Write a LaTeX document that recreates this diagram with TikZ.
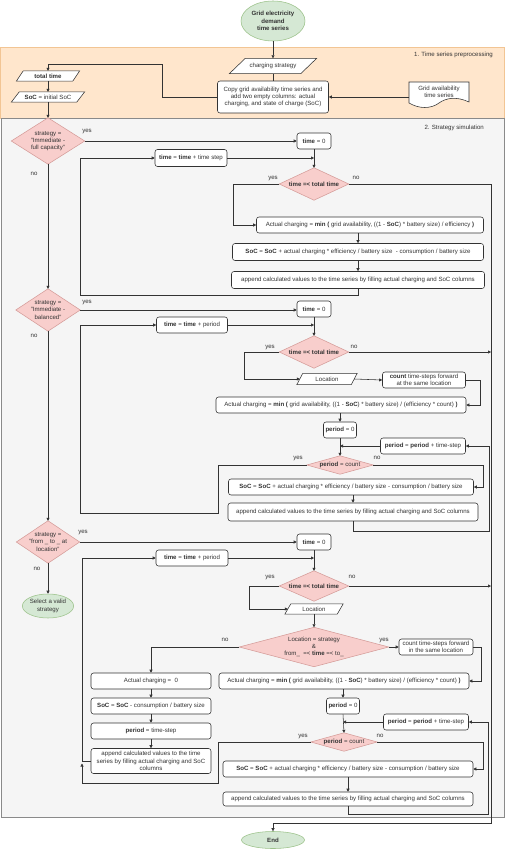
\documentclass[tikz,border=0pt]{standalone}
\usepackage{fontspec}
\setmainfont{Liberation Sans}
\usetikzlibrary{shapes.geometric,arrows.meta,calc}
\pgfdeclarelayer{bg}
\pgfdeclarelayer{shp}
\pgfsetlayers{bg,shp,main}
\definecolor{orfill}{HTML}{FFE6CC}
\definecolor{orline}{HTML}{F2C594}
\definecolor{grfill}{HTML}{F5F5F5}
\definecolor{grline}{HTML}{8A8A8A}
\definecolor{pkfill}{HTML}{F8CECC}
\definecolor{pkline}{HTML}{D59C99}
\definecolor{gnfill}{HTML}{D5E8D4}
\definecolor{gnline}{HTML}{9CC28A}
\definecolor{ink}{HTML}{333333}
\newcommand\myfs{\fontsize{6.1}{7.2}\selectfont}
\begin{document}
\begin{tikzpicture}[x=1pt,y=-1pt,
  every node/.style={font=\myfs, text=ink},
  box/.style={draw=ink, fill=white, rounded corners=2.5pt, line width=0.55pt, align=center, inner sep=0pt},
  tx/.style={align=center, inner sep=0pt},
  dshape/.style={draw=pkline, fill=pkfill, line width=0.55pt},
  pshape/.style={draw=ink, fill=white, line width=0.55pt},
  ell/.style={ellipse, draw=gnline, fill=gnfill, align=center, inner sep=0pt, line width=0.55pt},
  ln/.style={draw=ink, line width=0.55pt},
  arr/.style={ln, -{Triangle[length=3pt,width=3pt]}},
  lab/.style={inner sep=0pt}
]
\useasboundingbox (0,0) rectangle (505,850);

% regions
\begin{pgfonlayer}{bg}
\fill[white] (0,0) rectangle (505,850);
\draw[fill=orfill, draw=orline, line width=0.5pt] (0.5,47) rectangle (504.5,118);
\draw[fill=grfill, draw=grline, line width=0.5pt] (1,118) rectangle (504,817);
\end{pgfonlayer}
\node[lab, anchor=east] (r1) at (493,55) {1. Time series preprocessing};
\node[lab, anchor=east] (r2) at (484,128) {2. Strategy simulation};

% ---------- preprocessing
\node[ell, minimum width=64, minimum height=40, font=\myfs\bfseries] (start) at (273,21) {Grid electricity\\demand\\time series};
\node[tx, minimum width=87, minimum height=15] (cs) at (273,66) {charging strategy};
\node[box, minimum width=111, minimum height=32] (copy) at (273,97) {Copy grid availability time series and\\add two empty columns: actual\\charging, and state of charge (SoC)};
\node[tx, minimum width=60] (gav) at (439,92) {Grid availability\\time series};
\node[tx, minimum width=63, minimum height=10, font=\myfs\bfseries] (tt) at (48,76) {total time};
\node[tx, minimum width=73, minimum height=10] (si) at (48,97) {\textbf{SoC} = initial SoC};

% ---------- section 1
\node[tx, minimum width=73, minimum height=46] (d1) at (48,141) {strategy =\\"Immediate -\\full capacity"};
\node[box, minimum width=34, minimum height=16] (t0a) at (314,141) {\textbf{time} = 0};
\node[box, minimum width=72, minimum height=17] (tinc1) at (191,158) {\textbf{time} = \textbf{time} + time step};
\node[tx, minimum width=69, minimum height=32, font=\myfs\bfseries] (dt1) at (314,184) {time =< total time};
\node[box, minimum width=227, minimum height=16] (ac1) at (370,225) {Actual charging = \textbf{min (} grid availability, ((1 - \textbf{SoC}) * battery size) / efficiency \textbf{)}};
\node[box, minimum width=251, minimum height=17] (soc1) at (358,252) {\textbf{SoC} = \textbf{SoC} + actual charging * efficiency / battery size\ \ - consumption / battery size};
\node[box, minimum width=253, minimum height=17] (app1) at (358,280) {append calculated values to the time series by filling actual charging and SoC columns};

% ---------- section 2
\node[tx, minimum width=64, minimum height=42] (d2) at (48,310) {strategy =\\"Immediate -\\balanced"};
\node[box, minimum width=34, minimum height=16] (t0b) at (314,309) {\textbf{time} = 0};
\node[box, minimum width=71, minimum height=16] (tinc2) at (192,325) {\textbf{time} = \textbf{time} + period};
\node[tx, minimum width=69, minimum height=32, font=\myfs\bfseries] (dt2) at (314,352) {time =< total time};
\node[tx, minimum width=60, minimum height=11] (loc1) at (327,379) {Location};
\node[box, minimum width=83, minimum height=16] (cnt1) at (424,380) {\textbf{count} time-steps forward\\at the same location};
\node[box, minimum width=250, minimum height=16] (ac2) at (341,405) {Actual charging = \textbf{min (} grid availability, ((1 - \textbf{SoC}) * battery size) / (efficiency * count) \textbf{)}};
\node[box, minimum width=33, minimum height=16] (p0a) at (340,430) {\textbf{period} = 0};
\node[box, minimum width=85, minimum height=16] (pinc2) at (423,446) {\textbf{period} = \textbf{period} + time-step};
\node[tx, minimum width=66, minimum height=18] (dp2) at (340,465) {\textbf{period} = count};
\node[box, minimum width=245, minimum height=16] (soc2) at (351,487) {\textbf{SoC} = \textbf{SoC} + actual charging * efficiency / battery size - consumption / battery size};
\node[box, minimum width=250, minimum height=18] (app2) at (353,512) {append calculated values to the time series by filling actual charging and SoC columns};

% ---------- section 3
\node[tx, minimum width=63, minimum height=42] (d3) at (48,542) {strategy =\\"from \_ to \_ at\\location"};
\node[box, minimum width=34, minimum height=16] (t0c) at (314,542) {\textbf{time} = 0};
\node[box, minimum width=72, minimum height=16] (tinc3) at (192,558) {\textbf{time} = \textbf{time} + period};
\node[tx, minimum width=69, minimum height=30, font=\myfs\bfseries] (dt3) at (314,586) {time =< total time};
\node[ell, minimum width=49, minimum height=24] (sel) at (48,606) {Select a valid\\strategy};
\node[tx, minimum width=58, minimum height=10] (loc2) at (314,609) {Location};
\node[tx, minimum width=149, minimum height=39] (dloc) at (314,647) {Location = strategy\\\&\\from\_\ \ =< \textbf{time} =< to\_};
\node[box, minimum width=74, minimum height=16] (cnt2) at (436,647) {count time-steps forward\\in the same location};
\node[box, minimum width=120, minimum height=16] (ac0) at (151,681) {Actual charging =\ \ 0};
\node[box, minimum width=250, minimum height=16] (ac3) at (344,681) {Actual charging = \textbf{min (} grid availability, ((1 - \textbf{SoC}) * battery size) / (efficiency * count) \textbf{)}};
\node[box, minimum width=120, minimum height=16] (soc0) at (151,706) {\textbf{SoC} = \textbf{SoC} - consumption / battery size};
\node[box, minimum width=33, minimum height=16] (p0b) at (343,706) {\textbf{period} = 0};
\node[box, minimum width=85, minimum height=16] (pinc3) at (426,722) {\textbf{period} = \textbf{period} + time-step};
\node[box, minimum width=120, minimum height=16] (pstep) at (151,731) {\textbf{period} = time-step};
\node[tx, minimum width=66, minimum height=18] (dp3) at (344,742) {\textbf{period} = count};
\node[box, minimum width=120, minimum height=25] (app0) at (151,761) {append calculated values to the time\\series by filling actual charging and SoC\\columns};
\node[box, minimum width=250, minimum height=16] (soc3) at (348,769) {\textbf{SoC} = \textbf{SoC} + actual charging * efficiency / battery size - consumption / battery size};
\node[box, minimum width=250, minimum height=14] (app3) at (348,799) {append calculated values to the time series by filling actual charging and SoC columns};
\node[ell, minimum width=63, minimum height=17, font=\myfs\bfseries] (endn) at (273,840) {End};

% ---------- shapes behind text
\begin{pgfonlayer}{shp}
\foreach \n in {d1,d2,d3,dt1,dt2,dt3,dloc,dp2,dp3}
  \draw[dshape] (\n.north) -- (\n.east) -- (\n.south) -- (\n.west) -- cycle;
\foreach \n/\s in {cs/16,tt/7,si/8,loc1/6,loc2/6}
  \draw[pshape] ([xshift=\s]\n.north west) -- (\n.north east) -- ([xshift=-\s]\n.south east) -- (\n.south west) -- cycle;
\draw[pshape] (409,82) -- (469,82) -- (469,102) .. controls (456,96) and (446,98) .. (439,103) .. controls (431,109) and (419,109) .. (409,103) -- cycle;
\end{pgfonlayer}

% ---------- coordinates
\coordinate (c1) at (162,64);
\coordinate (e1) at (491,823);
\coordinate (l1a) at (233,225);
\coordinate (l1b) at (80,295);
\coordinate (n2) at (491,352);
\coordinate (l2a) at (244,379);
\coordinate (r2a) at (480,405);
\coordinate (l2b) at (218,513);
\coordinate (l2c) at (80,513);
\coordinate (r2b) at (483,487);
\coordinate (r2c) at (489,531);
\coordinate (n3) at (491,586);
\coordinate (l3a) at (249,609);
\coordinate (r3a) at (481,681);
\coordinate (r3b) at (483,769);
\coordinate (r3c) at (488,814);
\coordinate (l3b) at (218,783);
\coordinate (l3c) at (82,783);
\coordinate (l3d) at (82,763.5);
\coordinate (l3e) at (82,761);

% ---------- connectors: preprocessing
\draw[arr] (start.south) -- (cs.north);
\draw[ln] (cs.south) -- (copy.north);
\draw[arr] (gav.west |- copy.east) -- (copy.east);
\draw[arr] (copy.west) -| (c1) -| (tt.north);
\draw[arr] (tt.south) -- (si.north);
\draw[arr] (si.south) -- (d1.north);

% section 1
\draw[arr] (d1.east) -- (d1.east -| t0a.west);
\draw[arr] (d1.south) -- (d2.north);
\draw[arr] (t0a.south) -- (dt1.north);
\draw[arr] (tinc1.east) -- (tinc1.east -| t0a.south);
\draw[arr] (dt1.west) -| (l1a) -- (ac1.west);
\draw[arr] (soc1.north |- ac1.south) -- (soc1.north);
\draw[arr] (soc1.south) -- (app1.north);
\draw[arr] (app1.south) |- (l1b) |- (tinc1.west);
\draw[arr] (dt1.east) -| (e1) -| (endn.north);

% section 2
\draw[arr] (d2.east) -- (d2.east -| t0b.west);
\draw[arr] (d2.south) -- (d3.north);
\draw[arr] (t0b.south) -- (dt2.north);
\draw[arr] (tinc2.east) -- (tinc2.east -| t0b.south);
\draw[arr] (dt2.east) -- (n2);
\draw[arr] (dt2.west) -| (l2a) -- ([xshift=3]loc1.west);
\draw[arr] ([xshift=-3]loc1.east) -- (cnt1.west);
\draw[arr] (cnt1.east) -| (r2a) -- (ac2.east);
\draw[arr] (p0a.north |- ac2.south) -- (p0a.north);
\draw[arr] (p0a.south) -- (dp2.north);
\draw[arr] (pinc2.west) -- (pinc2.west -| p0a.south);
\draw[arr] (dp2.west) -| (l2b) -- (l2c) |- (tinc2.west);
\draw[arr] (dp2.east) -| (r2b) -- (soc2.east);
\draw[arr] (app2.north |- soc2.south) -- (app2.north);
\draw[arr] (app2.south) |- (r2c) |- (pinc2.east);

% section 3
\draw[arr] (d3.east) -- (d3.east -| t0c.west);
\draw[arr] (d3.south) -- (sel.north);
\draw[arr] (t0c.south) -- (dt3.north);
\draw[arr] (tinc3.east) -- (tinc3.east -| t0c.south);
\draw[arr] (dt3.east) -- (n3);
\draw[arr] (dt3.west) -| (l3a) -- ([xshift=3]loc2.west);
\draw[arr] (loc2.south) -- (dloc.north);
\draw[arr] (dloc.east) -- (cnt2.west);
\draw[arr] (cnt2.east) -| (r3a) -- (ac3.east);
\draw[arr] (dloc.west) -| (ac0.north);
\draw[arr] (ac0.south) -- (soc0.north);
\draw[arr] (soc0.south) -- (pstep.north);
\draw[arr] (pstep.south) -- (app0.north);
\draw[arr] (p0b.north |- ac3.south) -- (p0b.north);
\draw[arr] (p0b.south) -- (dp3.north);
\draw[arr] (pinc3.west) -- (pinc3.west -| p0b.south);
\draw[arr] (dp3.east) -| (r3b) -- (soc3.east);
\draw[arr] (app3.north |- soc3.south) -- (app3.north);
\draw[arr] (app3.south) |- (r3c) |- (pinc3.east);
\draw[arr] (dp3.west) -| (l3b) -- (l3c) -- (l3d);
\draw[arr] (app0.west) -- (l3e) |- (tinc3.west);

% ---------- labels
\node[lab] (y1) at (87,131) {yes};
\node[lab] (n1) at (34,174) {no};
\node[lab] (y2) at (273,178) {yes};
\node[lab] (n2l) at (356,178) {no};
\node[lab] (y3) at (87,302) {yes};
\node[lab] (n3l) at (34,336) {no};
\node[lab] (y4) at (270,347) {yes};
\node[lab] (n4) at (354,347) {no};
\node[lab] (y5) at (298,458) {yes};
\node[lab] (n5) at (377,458) {no};
\node[lab] (y6) at (83,532) {yes};
\node[lab] (n6) at (37,569) {no};
\node[lab] (y7) at (270,577) {yes};
\node[lab] (n7) at (352,577) {no};
\node[lab] (n8) at (225,640) {no};
\node[lab] (y8) at (384,640) {yes};
\node[lab] (y9) at (303,736) {yes};
\node[lab] (n9) at (380,736) {no};
\end{tikzpicture}
\end{document}
